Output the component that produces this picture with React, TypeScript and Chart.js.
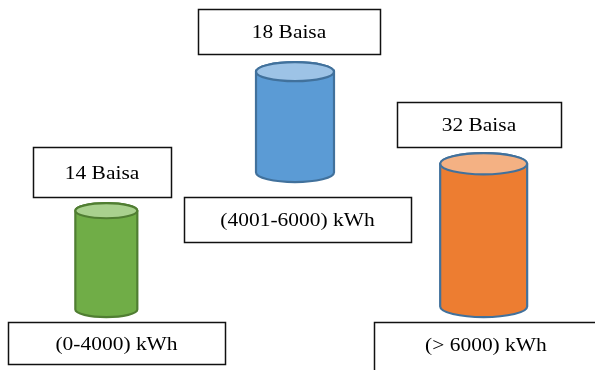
import { useEffect, useRef } from "react";
import { Chart, registerables } from "chart.js";

Chart.register(...registerables);

// Tariff tiers and their price per kWh
const tiers = ["(0-4000) kWh", "(4001-6000) kWh", "(> 6000) kWh"];
const ratesBaisa = [14, 18, 32];

// Vertical extent of each cylinder on the hidden level scale (0-100)
const cylinderBottom = [14.3, 50.8, 14.3];
const cylinderTop = [45.1, 83.2, 58.6];

// Cylinder styling
const cylinderWidth = [62, 78, 87];
const bodyColors = ["#70AD47", "#5B9BD5", "#ED7D31"];
const lidColors = ["#A9D18E", "#9DC3E6", "#F4B183"];
const edgeColors = ["#507E32", "#41719C", "#41719C"];

// Caption boxes, placed relative to each cylinder
const rateBox = [
  { dx: -4.3, w: 138, h: 50, gap: 6 },
  { dx: -6, w: 182, h: 45, gap: 8 },
  { dx: -4.7, w: 164, h: 45, gap: 6 },
];
const tierBox = [
  { dx: 10.2, w: 217, h: 42, gap: 5 },
  { dx: 2.5, w: 227, h: 45, gap: 15 },
  { dx: 2.3, w: 224, h: 50, gap: 5 },
];

const FONT = "19.5px 'Liberation Serif', 'Times New Roman', serif";
const TEXT_STRETCH = 1.1;

function drawBox(ctx: CanvasRenderingContext2D, cx: number, top: number, w: number, h: number, text: string, textY?: number) {
  const left = Math.round(cx - w / 2) + 0.5;
  const t = Math.round(top) + 0.5;
  ctx.save();
  ctx.fillStyle = "#ffffff";
  ctx.fillRect(left, t, w, h);
  ctx.strokeStyle = "#111111";
  ctx.lineWidth = 1.5;
  ctx.strokeRect(left, t, w, h);
  ctx.fillStyle = "#000000";
  ctx.font = FONT;
  ctx.textAlign = "center";
  ctx.textBaseline = "middle";
  ctx.translate(cx, textY ?? t + h / 2 + 1);
  ctx.scale(TEXT_STRETCH, 1);
  ctx.fillText(text, 0, 0);
  ctx.restore();
}

const cylinderPlugin = {
  id: "cylinders",
  afterDatasetsDraw(chart: any) {
    const ctx: CanvasRenderingContext2D = chart.ctx;
    chart.data.datasets.forEach((_: any, i: number) => {
      const el = chart.getDatasetMeta(i).data[i];
      if (!el) return;
      const { x, y, base, width } = el.getProps(["x", "y", "base", "width"], true);
      const top = Math.min(y, base);
      const bottom = Math.max(y, base);
      const rx = width / 2;
      const ry = width * 0.122;

      ctx.save();
      ctx.lineWidth = 2.2;
      ctx.strokeStyle = edgeColors[i];

      // body with rounded bottom
      ctx.beginPath();
      ctx.moveTo(x - rx, top + ry);
      ctx.lineTo(x - rx, bottom - ry);
      ctx.ellipse(x, bottom - ry, rx, ry, 0, Math.PI, 0, true);
      ctx.lineTo(x + rx, top + ry);
      ctx.ellipse(x, top + ry, rx, ry, 0, 0, Math.PI, true);
      ctx.closePath();
      ctx.fillStyle = bodyColors[i];
      ctx.fill();
      ctx.stroke();

      // lid
      ctx.beginPath();
      ctx.ellipse(x, top + ry, rx, ry, 0, 0, Math.PI * 2);
      ctx.fillStyle = lidColors[i];
      ctx.fill();
      ctx.stroke();
      ctx.restore();

      // price above, tier below
      const rb = rateBox[i];
      drawBox(ctx, x + rb.dx, top - rb.gap - rb.h, rb.w, rb.h, `${ratesBaisa[i]} Baisa`);
      const tb = tierBox[i];
      const tTop = bottom + tb.gap;
      drawBox(ctx, x + tb.dx, tTop, tb.w, tb.h, tiers[i], i === 2 ? Math.round(tTop) + 24 : undefined);
    });
  },
};

export default function App() {
  const canvasRef = useRef<HTMLCanvasElement | null>(null);

  useEffect(() => {
    if (!canvasRef.current) return;
    const datasets = tiers.map((_, i) => ({
      label: tiers[i],
      data: tiers.map((__, j) => (j === i ? [cylinderBottom[i], cylinderTop[i]] : null)),
      barThickness: cylinderWidth[i],
      backgroundColor: "rgba(0,0,0,0)",
      borderWidth: 0,
    }));
    const chart = new Chart(canvasRef.current, {
      type: "bar",
      data: { labels: tiers, datasets: datasets as any },
      options: {
        animation: false,
        responsive: false,
        maintainAspectRatio: false,
        grouped: false,
        layout: { padding: { left: 12, right: 17, top: 0, bottom: 0 } },
        plugins: { legend: { display: false }, tooltip: { enabled: false } },
        scales: {
          x: { display: false },
          y: { display: false, min: 0, max: 100 },
        },
      } as any,
      plugins: [cylinderPlugin],
    });
    return () => chart.destroy();
  }, []);

  return (
    <div style={{ position: "fixed", left: 0, top: 0, width: 595, height: 370, background: "#ffffff" }}>
      <canvas ref={canvasRef} width={595} height={370} style={{ width: 595, height: 370, display: "block" }} />
    </div>
  );
}
